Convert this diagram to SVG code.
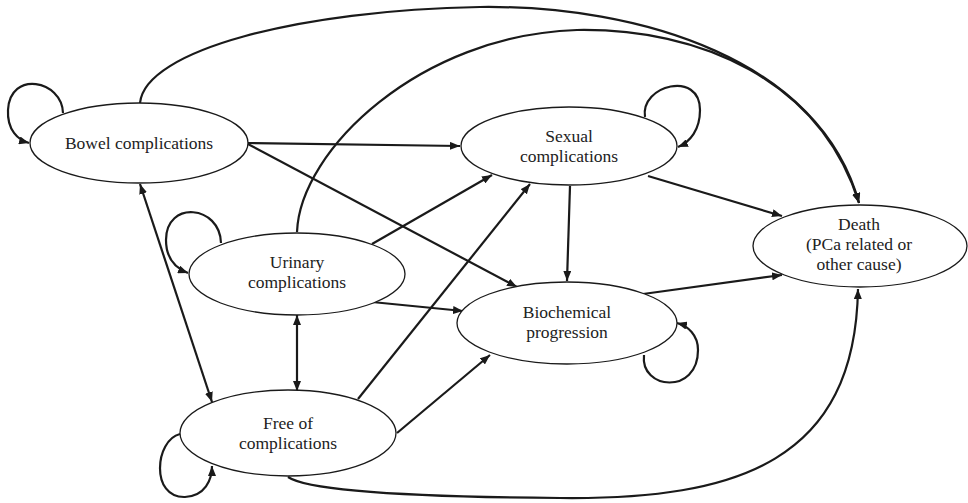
<svg xmlns="http://www.w3.org/2000/svg" width="968" height="503" viewBox="0 0 968 503">
<style>
.node ellipse{fill:#fff;stroke:#1a1a1a;stroke-width:1.3}
.node text{font-family:"Liberation Serif","Times New Roman",serif;font-size:17.5px;fill:#222;text-anchor:middle}
.edges path,.edges line{fill:none;stroke:#1a1a1a;stroke-width:2.2}
.arr{marker-end:url(#ah)}
.both{marker-start:url(#ahs);marker-end:url(#ah)}
</style>
<defs>
<marker id="ah" viewBox="0 0 10 8" refX="10" refY="4" markerWidth="10" markerHeight="8" markerUnits="userSpaceOnUse" orient="auto">
<path d="M0,0 L10,4 L0,8 Z" fill="#1a1a1a"/>
</marker>
<marker id="ahs" viewBox="0 0 10 8" refX="0" refY="4" markerWidth="10" markerHeight="8" markerUnits="userSpaceOnUse" orient="auto">
<path d="M10,0 L0,4 L10,8 Z" fill="#1a1a1a"/>
</marker>
</defs>
<rect width="968" height="503" fill="#fff"/>
<g class="edges" id="connectors">
<path class="arr" d="M140,103 C145,50 300,10 480,7 C640,5 820,60 859,203"/>
<path class="arr" d="M297,232 C300,150 420,35 577,30 C700,28 820,80 859,203"/>
<path class="arr" d="M288,477 C310,492 420,497 560,498 C740,500 855,460 858,289"/>
<path class="arr" d="M63,113 C62,80 10,70 8,110 C7,130 18,140 29,143"/>
<path class="arr" d="M221,243 C220,205 166,200 166,240 C166,258 175,268 188,273"/>
<path class="arr" d="M645,117 C640,85 700,70 700,110 C700,130 690,142 678,147"/>
<path class="arr" d="M644,355 C640,390 698,395 698,350 C698,335 688,326 677,323"/>
<path class="arr" d="M180,434 C155,440 150,498 185,497 C205,496 212,480 212,466"/>
<line class="both" x1="140" y1="184" x2="212" y2="402"/>
<line class="both" x1="297" y1="315" x2="297" y2="391"/>
<line class="arr" x1="247" y1="143" x2="460" y2="146"/>
<line class="arr" x1="246" y1="143" x2="517" y2="287"/>
<line class="arr" x1="372" y1="244" x2="492" y2="175"/>
<line class="arr" x1="358" y1="399" x2="530" y2="184"/>
<line class="arr" x1="372" y1="302" x2="463" y2="311"/>
<line class="arr" x1="397" y1="433" x2="490" y2="355"/>
<line class="arr" x1="570" y1="186" x2="567" y2="281"/>
<line class="arr" x1="648" y1="176" x2="782" y2="216"/>
<line class="arr" x1="643" y1="294" x2="782" y2="275"/>
</g>
<g class="node" id="bowel">
<ellipse cx="139" cy="143" rx="109" ry="40"/>
<text x="139" y="149">Bowel complications</text>
</g>
<g class="node" id="urinary">
<ellipse cx="297" cy="274" rx="108" ry="41"/>
<text x="297" y="268">Urinary</text>
<text x="297" y="288">complications</text>
</g>
<g class="node" id="free">
<ellipse cx="288" cy="433" rx="108" ry="43"/>
<text x="288" y="429">Free of</text>
<text x="288" y="449">complications</text>
</g>
<g class="node" id="sexual">
<ellipse cx="569" cy="146" rx="108" ry="39"/>
<text x="569" y="142">Sexual</text>
<text x="569" y="162">complications</text>
</g>
<g class="node" id="biochemical">
<ellipse cx="567" cy="323" rx="110" ry="41"/>
<text x="567" y="318">Biochemical</text>
<text x="567" y="338">progression</text>
</g>
<g class="node" id="death">
<ellipse cx="860" cy="246" rx="107" ry="41"/>
<text x="859" y="230">Death</text>
<text x="859" y="250">(PCa related or</text>
<text x="859" y="270">other cause)</text>
</g>
</svg>
